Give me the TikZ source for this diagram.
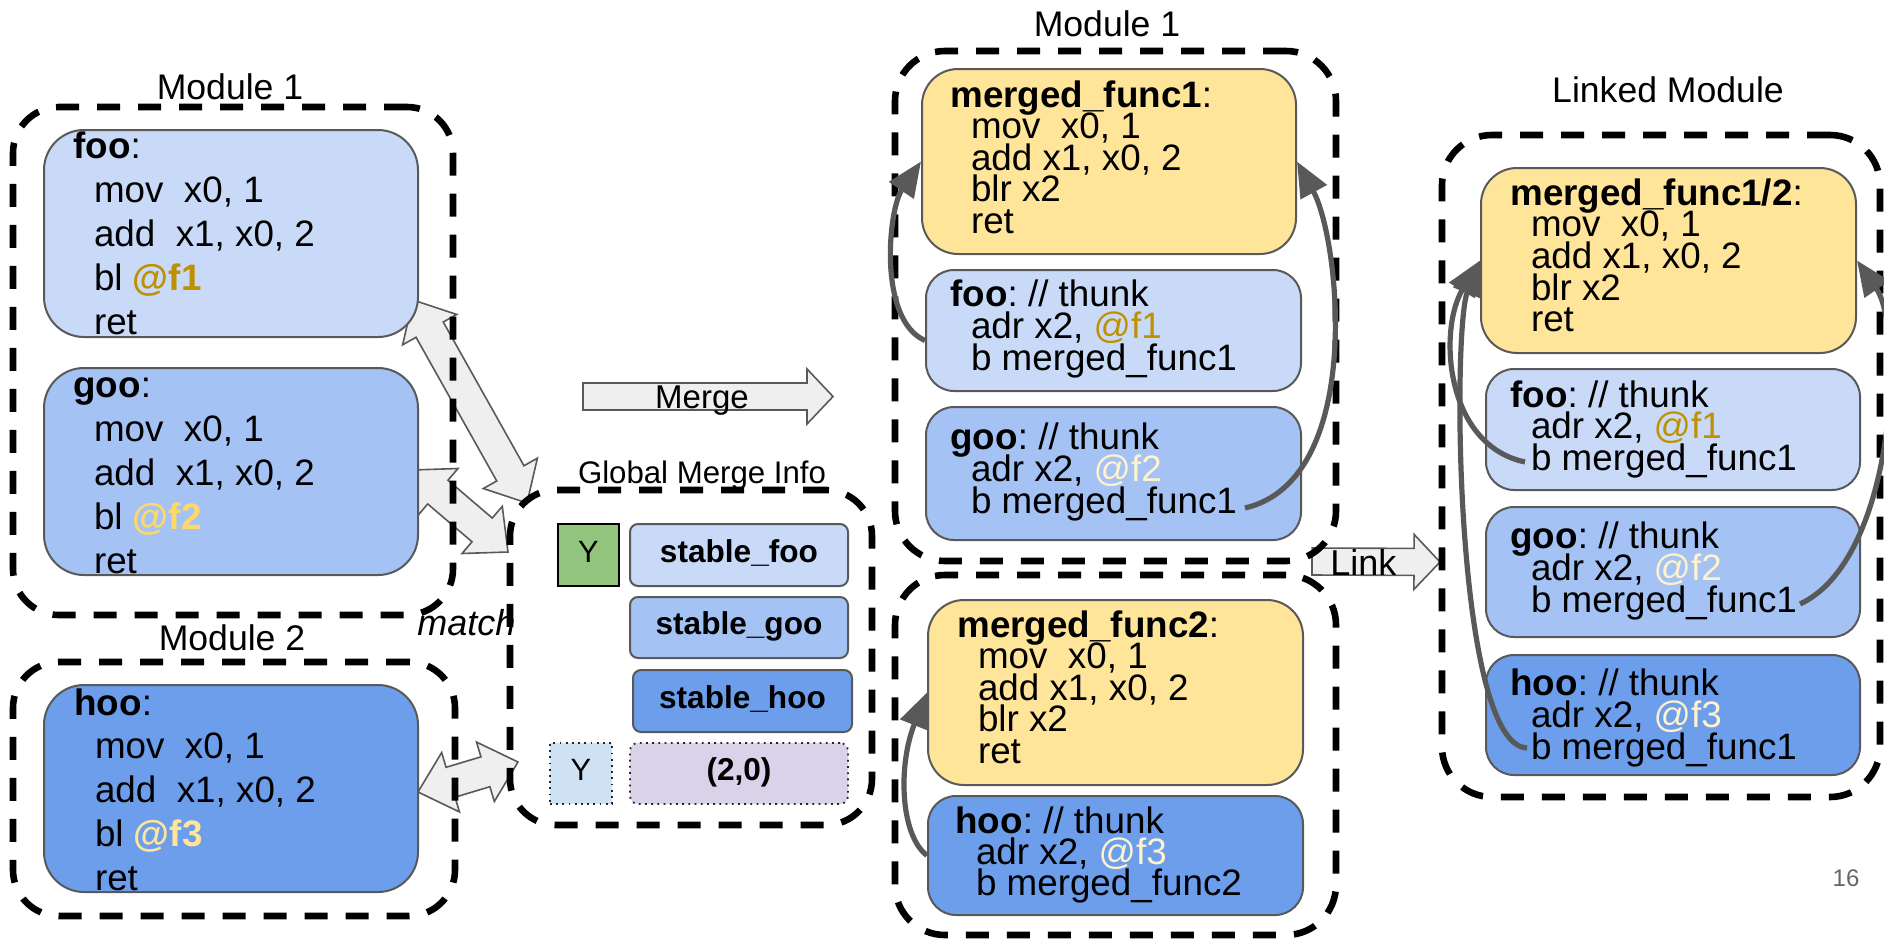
\documentclass[tikz,border=0pt]{standalone}
\usepackage{fontspec}
\setmainfont{Liberation Sans}
\usetikzlibrary{calc,fit,arrows.meta}
\frenchspacing

% palette
\definecolor{lblue}{HTML}{C9DAF8}
\definecolor{mblue}{HTML}{A4C2F4}
\definecolor{dblue}{HTML}{6D9EEB}
\definecolor{lyellow}{HTML}{FFE599}
\definecolor{ygreen}{HTML}{93C47D}
\definecolor{pblue}{HTML}{CFE2F3}
\definecolor{lav}{HTML}{D9D2E9}
\definecolor{edge}{HTML}{595959}
\definecolor{arrowfill}{HTML}{EFEFEF}
\definecolor{gold}{HTML}{BF9000}
\definecolor{sun}{HTML}{FFD966}
\definecolor{pale}{HTML}{FFE599}
\definecolor{cream}{HTML}{FFF2CC}
\definecolor{pagegray}{HTML}{666666}

% lines of code stacked at a fixed baseline distance, aligned on the first line
\newcommand\codetext[2]{\vtop{\baselineskip=#1\relax\lineskiplimit=-\maxdimen\lineskip=0pt\relax #2}}
\newcommand\codeln[1]{\hbox{#1}}
\newcommand\ind{\kern10.3pt}

% double-headed block arrow between two named coordinates
\newcommand\dblarrow[2]{%
  \draw[blockarrow] (#1)
    -- ($(#1)!17pt!(#2)!15.5pt!90:(#2)$)
    -- ($(#1)!17pt!(#2)!7.8pt!90:(#2)$)
    -- ($(#2)!17pt!(#1)!7.8pt!-90:(#1)$)
    -- ($(#2)!17pt!(#1)!15.5pt!-90:(#1)$)
    -- (#2)
    -- ($(#2)!17pt!(#1)!15.5pt!90:(#1)$)
    -- ($(#2)!17pt!(#1)!7.8pt!90:(#1)$)
    -- ($(#1)!17pt!(#2)!7.8pt!-90:(#2)$)
    -- ($(#1)!17pt!(#2)!15.5pt!-90:(#2)$)
    -- cycle;}

% single block arrow from tail #1 to tip #2
\newcommand\onearrow[2]{%
  \draw[blockarrow] ($(#1)!6.75pt!90:(#2)$)
    -- ($(#2)!13pt!(#1)!6.75pt!-90:(#1)$)
    -- ($(#2)!13pt!(#1)!13.75pt!-90:(#1)$)
    -- (#2)
    -- ($(#2)!13pt!(#1)!13.75pt!90:(#1)$)
    -- ($(#2)!13pt!(#1)!6.75pt!90:(#1)$)
    -- ($(#1)!6.75pt!-90:(#2)$)
    -- cycle;}

\begin{document}
\begin{tikzpicture}[x=0.5pt, y=-0.5pt,
  module/.style={draw=black, line width=3.3pt, dash pattern=on 11.5pt off 9pt, rounded corners=23pt, inner sep=0pt},
  cbox/.style={draw=edge, line width=1pt, inner sep=0pt},
  code/.style={anchor=base west, inner sep=0pt, font=\fontsize{18.4pt}{22pt}\selectfont},
  lbl/.style={anchor=base, inner sep=0pt, font=\fontsize{17.8pt}{20pt}\selectfont},
  blockarrow/.style={draw=edge, fill=arrowfill, line width=0.8pt, line join=miter},
  conn/.style={draw=edge, line width=2.6pt, -{Triangle[length=17.5pt,width=14.5pt]}},
  tab/.style={inner sep=0pt, text height=0.716em, text depth=0pt, font=\fontsize{15.8pt}{18pt}\selectfont\bfseries},
  dotbox/.style={draw=black!85, line width=0.9pt, dash pattern=on 0.9pt off 2.2pt, inner sep=0pt}
]
\useasboundingbox[fill=white] (0,0) rectangle (1884,938);

% ---------- block arrows ----------
\coordinate (a1u) at (413,300);  \coordinate (a1l) at (527,503);
\coordinate (a2u) at (412,470);  \coordinate (a2l) at (508,552);
\coordinate (a3l) at (418,792);  \coordinate (a3r) at (518,762);
\coordinate (mgT) at (583,396.5); \coordinate (mgH) at (833,396.5);
\coordinate (lkT) at (1312,561.5); \coordinate (lkH) at (1440,562);
\dblarrow{a1u}{a1l}
\dblarrow{a2u}{a2l}
\dblarrow{a3l}{a3r}
\onearrow{mgT}{mgH}
\onearrow{lkT}{lkH}

% ---------- dashed module frames ----------
\node[module, fit={(13,107) (453,615)}] (mod1) {};
\node[module, fit={(13,662) (455,916)}] (mod2) {};
\node[module, fit={(510,490) (872,825)}] (gmi) {};
\node[module, rounded corners=25pt, fit={(895,51) (1336,561)}] (mmod1) {};
\node[module, rounded corners=25pt, fit={(895,575) (1336,935)}] (mmod2) {};
\node[module, rounded corners=25pt, fit={(1442,135) (1880,797)}] (lmod) {};

% ---------- code boxes ----------
\node[cbox, fill=lblue, rounded corners=20pt, fit={(44,130) (418,337)}] (foo) {};
\node[cbox, fill=mblue, rounded corners=20pt, fit={(44,368) (418,575)}] (goo) {};
\node[cbox, fill=dblue, rounded corners=20pt, fit={(44,685) (418,892)}] (hoo) {};

\node[cbox, fill=lyellow, rounded corners=18pt, fit={(922,69) (1296,254)}] (mf1) {};
\node[cbox, fill=lblue, rounded corners=14pt, fit={(926,270) (1301,391)}] (mfoo) {};
\node[cbox, fill=mblue, rounded corners=14pt, fit={(926,407) (1301,540)}] (mgoo) {};
\node[cbox, fill=lyellow, rounded corners=18pt, fit={(928,600) (1303,785)}] (mf2) {};
\node[cbox, fill=dblue, rounded corners=14pt, fit={(928,796) (1303,915)}] (mhoo) {};

\node[cbox, fill=lyellow, rounded corners=18pt, fit={(1481,168) (1856,353)}] (lf) {};
\node[cbox, fill=lblue, rounded corners=14pt, fit={(1486,369) (1860,490)}] (lfoo) {};
\node[cbox, fill=mblue, rounded corners=14pt, fit={(1486,507) (1860,637)}] (lgoo) {};
\node[cbox, fill=dblue, rounded corners=14pt, fit={(1486,655) (1860,775)}] (lhoo) {};

% ---------- global merge table ----------
\node[draw=black, line width=1.2pt, fill=ygreen, inner sep=0pt, fit={(558,524) (619,586)}] (yg) {};
\node[cbox, fill=lblue, rounded corners=4pt, fit={(630,524) (848,586)}] (sfoo) {};
\node[cbox, fill=mblue, rounded corners=4pt, fit={(630,597) (848,658)}] (sgoo) {};
\node[cbox, fill=dblue, rounded corners=4pt, fit={(633,670) (852,732)}] (shoo) {};
\node[dotbox, fill=pblue, fit={(550,743) (612,804)}] (yd) {};
\node[dotbox, fill=lav, rounded corners=4pt, fit={(630,743) (848,804)}] (pair) {};

\node[tab, font=\fontsize{15.4pt}{18pt}\selectfont] (t-yg) at (yg.center) {Y};
\node[tab] (t-sfoo) at (sfoo.center) {stable\_foo};
\node[tab] (t-sgoo) at (sgoo.center) {stable\_goo};
\node[tab] (t-shoo) at (shoo.center) {stable\_hoo};
\node[tab, font=\fontsize{15.4pt}{18pt}\selectfont] (t-yd) at (yd.center) {Y};
\node[tab] (t-pair) at (pair.center) {(2,0)};

% ---------- code ----------
\node[code] (c-foo) at (73,158) {\codetext{22.1pt}{%
  \codeln{\textbf{foo}:}\codeln{\ind mov\ \ x0, 1}\codeln{\ind add\ \ x1, x0, 2}%
  \codeln{\ind bl \textbf{\color{gold}@f1}}\codeln{\ind ret}}};
\node[code] (c-goo) at (73,397) {\codetext{22pt}{%
  \codeln{\textbf{goo}:}\codeln{\ind mov\ \ x0, 1}\codeln{\ind add\ \ x1, x0, 2}%
  \codeln{\ind bl \textbf{\color{sun}@f2}}\codeln{\ind ret}}};
\node[code] (c-hoo) at (74,715) {\codetext{21.9pt}{%
  \codeln{\textbf{hoo}:}\codeln{\ind mov\ \ x0, 1}\codeln{\ind add\ \ x1, x0, 2}%
  \codeln{\ind bl \textbf{\color{pale}@f3}}\codeln{\ind ret}}};

\node[code] (c-mf1) at (950,107) {\codetext{15.75pt}{%
  \codeln{\textbf{merged\_func1}:}\codeln{\ind mov\ \ x0, 1}\codeln{\ind add x1, x0, 2}%
  \codeln{\ind blr x2}\codeln{\ind ret}}};
\node[code] (c-mfoo) at (950,306) {\codetext{16.2pt}{%
  \codeln{\textbf{foo}: // thunk}\codeln{\ind adr x2, {\color{gold}@f1}}\codeln{\ind b merged\_func1}}};
\node[code] (c-mgoo) at (950,449) {\codetext{16pt}{%
  \codeln{\textbf{goo}: // thunk}\codeln{\ind adr x2, {\color{cream}@f2}}\codeln{\ind b merged\_func1}}};
\node[code] (c-mf2) at (957,637) {\codetext{15.75pt}{%
  \codeln{\textbf{merged\_func2}:}\codeln{\ind mov\ \ x0, 1}\codeln{\ind add x1, x0, 2}%
  \codeln{\ind blr x2}\codeln{\ind ret}}};
\node[code] (c-mhoo) at (955,833) {\codetext{15.6pt}{%
  \codeln{\textbf{hoo}: // thunk}\codeln{\ind adr x2, {\color{cream}@f3}}\codeln{\ind b merged\_func2}}};

\node[code] (c-lf) at (1510,205) {\codetext{15.85pt}{%
  \codeln{\textbf{merged\_func1/2}:}\codeln{\ind mov\ \ x0, 1}\codeln{\ind add x1, x0, 2}%
  \codeln{\ind blr x2}\codeln{\ind ret}}};
\node[code] (c-lfoo) at (1510,407) {\codetext{15.9pt}{%
  \codeln{\textbf{foo}: // thunk}\codeln{\ind adr x2, {\color{gold}@f1}}\codeln{\ind b merged\_func1}}};
\node[code] (c-lgoo) at (1510,548) {\codetext{16pt}{%
  \codeln{\textbf{goo}: // thunk}\codeln{\ind adr x2, {\color{cream}@f2}}\codeln{\ind b merged\_func1}}};
\node[code] (c-lhoo) at (1510,695) {\codetext{16pt}{%
  \codeln{\textbf{hoo}: // thunk}\codeln{\ind adr x2, {\color{cream}@f3}}\codeln{\ind b merged\_func1}}};

% ---------- labels ----------
\node[lbl] (t-m1) at (230,99) {Module 1};
\node[lbl] (t-m2) at (232,650) {Module 2};
\node[lbl] (t-mm1) at (1107,36) {Module 1};
\node[lbl] (t-lm) at (1668,102) {Linked Module};
\node[lbl, font=\fontsize{15.6pt}{18pt}\selectfont] (t-gmi) at (702,483) {Global Merge Info};
\node[lbl, anchor=base west, font=\fontsize{18pt}{20pt}\selectfont\itshape] (t-match) at (417,635) {match};
\node[lbl, font=\fontsize{16.5pt}{18pt}\selectfont] (t-merge) at (702,408) {Merge};
\node[lbl, anchor=base west, font=\fontsize{18pt}{20pt}\selectfont] (t-link) at (1330,575) {Link};
\node[lbl, font=\fontsize{12pt}{14pt}\selectfont, text=pagegray] (t-page) at (1846,886) {16};

% ---------- thunk branches ----------
\coordinate (mgooEnd) at (1245,508);
\coordinate (lfooStart) at (1525,462);
\coordinate (lhooStart) at (1527,748);
\coordinate (lgooEnd) at (1800,604);
\draw[conn] ([yshift=-5pt]mfoo.west) .. controls (878,320) and (888,210) .. (mf1.west);
\draw[conn] (mgooEnd) .. controls (1365,480) and (1340,240) .. (mf1.east);
\draw[conn] (mhoo.west) .. controls (900,835) and (898,765) .. (mf2.west);
\draw[conn] (lfooStart) .. controls (1445,445) and (1438,330) .. (lf.west);
\draw[conn] (lhooStart) .. controls (1455,745) and (1452,330) .. (lf.west);
\draw[conn] (lgooEnd) .. controls (1895,560) and (1905,330) .. (lf.east);
\end{tikzpicture}
\end{document}
